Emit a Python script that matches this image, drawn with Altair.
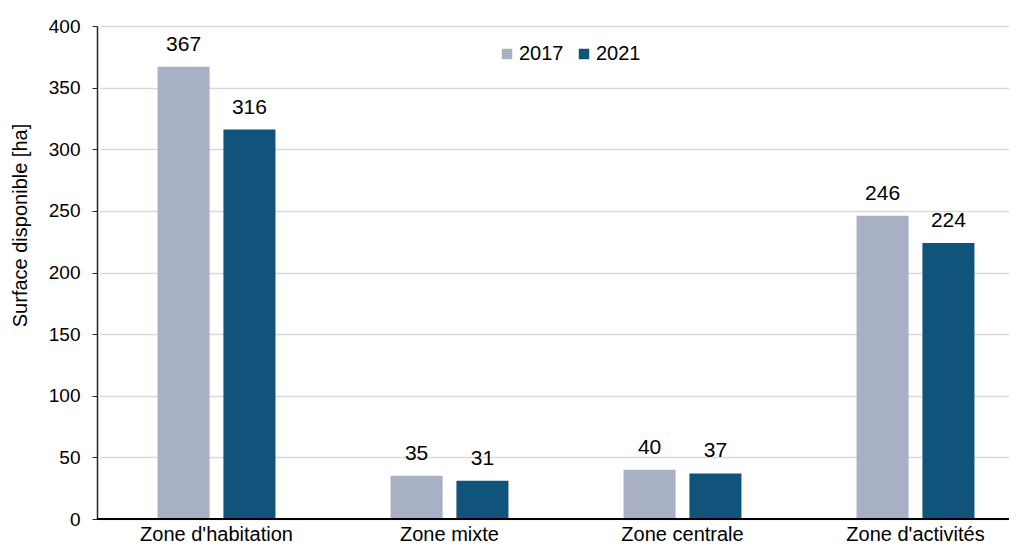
import altair as alt
import pandas as pd

categories = ["Zone d'habitation", "Zone mixte", "Zone centrale", "Zone d'activités"]
years = ["2017", "2021"]
values_2017 = [367, 35, 40, 246]
values_2021 = [316, 31, 37, 224]
y_ticks = [0, 50, 100, 150, 200, 250, 300, 350, 400]
colors = ["#a7b1c3", "#11547b"]

rows = []
for c, a, b in zip(categories, values_2017, values_2021):
    rows.append({"zone": c, "annee": "2017", "val": a})
    rows.append({"zone": c, "annee": "2021", "val": b})
df = pd.DataFrame(rows)

W, H = 912, 493
FONT = "Liberation Sans"

x = alt.X("zone:N", sort=categories, title=None,
          scale=alt.Scale(range=[3, 935], paddingInner=0.494, paddingOuter=0.247),
          axis=alt.Axis(labelAngle=0, labelFontSize=20, labelFont=FONT, labelColor="#000000",
                        domain=False, ticks=False, labelPadding=21, labelBaseline="alphabetic"))
xo = alt.XOffset("annee:N", sort=years,
                 scale=alt.Scale(paddingInner=0.21, paddingOuter=0))
y = alt.Y("val:Q", scale=alt.Scale(domain=[0, 400], nice=False),
          axis=alt.Axis(values=y_ticks, title="Surface disponible [ha]", titleFontSize=20,
                        titleFont=FONT, titleFontWeight="normal", titleColor="#000000",
                        titleAngle=-90, titleX=-77, titleY=199, titleAlign="center",
                        titleBaseline="middle",
                        labelFontSize=19, labelFont=FONT, labelColor="#000000", labelPadding=12,
                        tickSize=5, tickColor="#262626", domainColor="#262626", domainWidth=1.5,
                        gridColor="#d9d9d9", gridWidth=1.5))

base = alt.Chart(df)
bars = base.mark_bar().encode(
    x=x, xOffset=xo, y=y,
    color=alt.Color("annee:N", sort=years,
                    scale=alt.Scale(domain=years, range=colors),
                    legend=alt.Legend(title=None, orient="none", legendX=400, legendY=18,
                                      direction="horizontal", symbolType="square", symbolSize=110,
                                      symbolStrokeWidth=0,
                                      labelFontSize=20, labelFont=FONT, labelColor="#000000",
                                      columnPadding=10, labelOffset=2, padding=0)),
)
labels = base.mark_text(baseline="alphabetic", dy=-16, fontSize=21, font=FONT, color="#000000").encode(
    x=x, xOffset=xo, y=y, text=alt.Text("val:Q"),
)
axis_line = alt.Chart(pd.DataFrame({"v": [0]})).mark_rule(color="#000000", strokeWidth=2).encode(
    y=alt.datum(0),
    x=alt.value(0), x2=alt.value(W),
)

chart = alt.layer(bars, labels, axis_line).properties(
    width=W, height=H,
    autosize=alt.AutoSizeParams(type="none"),
    padding={"left": 89, "top": 18, "right": 0, "bottom": 25},
).configure_view(stroke=None)

chart.save("out.html", embed_options={"renderer": "svg", "actions": False})
